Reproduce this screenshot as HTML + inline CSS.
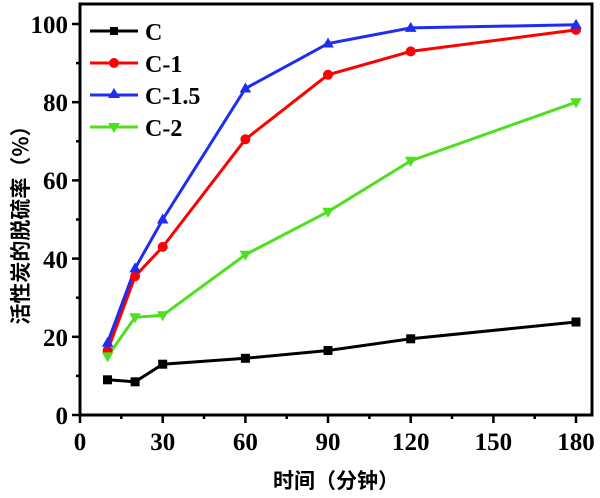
<!DOCTYPE html>
<html><head><meta charset="utf-8"><style>body{margin:0;background:#fff}svg{display:block}</style></head><body>
<svg width="600" height="498" viewBox="0 0 600 498" xmlns="http://www.w3.org/2000/svg" font-family="'Liberation Serif',serif" font-weight="bold">
<rect x="80" y="4" width="512" height="411" fill="none" stroke="#000" stroke-width="3"/>
<g stroke="#000" stroke-width="2.5">
<line x1="80" y1="415" x2="80" y2="423"/><line x1="162.7" y1="415" x2="162.7" y2="423"/><line x1="245.4" y1="415" x2="245.4" y2="423"/><line x1="328" y1="415" x2="328" y2="423"/><line x1="410.7" y1="415" x2="410.7" y2="423"/><line x1="493.4" y1="415" x2="493.4" y2="423"/><line x1="576" y1="415" x2="576" y2="423"/>
<line x1="121.3" y1="415" x2="121.3" y2="419"/><line x1="204" y1="415" x2="204" y2="419"/><line x1="286.7" y1="415" x2="286.7" y2="419"/><line x1="369.4" y1="415" x2="369.4" y2="419"/><line x1="452" y1="415" x2="452" y2="419"/><line x1="534.7" y1="415" x2="534.7" y2="419"/>
<line x1="72" y1="415" x2="80" y2="415"/><line x1="72" y1="336.8" x2="80" y2="336.8"/><line x1="72" y1="258.6" x2="80" y2="258.6"/><line x1="72" y1="180.4" x2="80" y2="180.4"/><line x1="72" y1="102.2" x2="80" y2="102.2"/><line x1="72" y1="24" x2="80" y2="24"/>
<line x1="76" y1="375.9" x2="80" y2="375.9"/><line x1="76" y1="297.7" x2="80" y2="297.7"/><line x1="76" y1="219.5" x2="80" y2="219.5"/><line x1="76" y1="141.3" x2="80" y2="141.3"/><line x1="76" y1="63.1" x2="80" y2="63.1"/>
</g>
<g font-size="25" text-anchor="middle">
<text x="80" y="450">0</text><text x="162.7" y="450">30</text><text x="245.4" y="450">60</text><text x="328" y="450">90</text><text x="410.7" y="450">120</text><text x="493.4" y="450">150</text><text x="576" y="450">180</text>
</g>
<g font-size="25" text-anchor="end">
<text x="68" y="424">0</text><text x="68" y="346">20</text><text x="68" y="268">40</text><text x="68" y="189">60</text><text x="68" y="111">80</text><text x="68" y="33">100</text>
</g>
<text x="336" y="488" font-size="21" text-anchor="middle" font-family="'Noto Sans CJK SC',sans-serif" font-weight="bold">时间（分钟）</text>
<text transform="translate(28,220) rotate(-90)" font-size="21" text-anchor="middle" font-family="'Noto Sans CJK SC',sans-serif" font-weight="bold">活性炭的脱硫率（%）</text>
<g fill="none" stroke-width="3">
<polyline stroke="#000" points="107.6,379.8 135.1,381.8 162.7,364.2 245.4,358.3 328,350.5 410.7,338.8 576,322"/>
<polyline stroke="#f00" points="107.6,350.5 135.1,276.2 162.7,246.9 245.4,139.3 328,74.8 410.7,51.4 576,29.9"/>
<polyline stroke="#1e2ef0" points="107.6,342.7 135.1,268.4 162.7,219.5 245.4,88.5 328,43.5 410.7,27.9 576,24.8"/>
<polyline stroke="#4ee01e" points="107.6,356.4 135.1,317.3 162.7,315.3 245.4,254.7 328,211.7 410.7,160.8 576,102.2"/>
</g>
<g fill="#000"><rect x="103" y="375.3" width="9" height="9"/><rect x="130.6" y="377.3" width="9" height="9"/><rect x="158.2" y="359.7" width="9" height="9"/><rect x="240.9" y="353.8" width="9" height="9"/><rect x="323.5" y="346" width="9" height="9"/><rect x="406.2" y="334.3" width="9" height="9"/><rect x="571.5" y="317.5" width="9" height="9"/></g>
<g fill="#f00"><circle cx="107.6" cy="350.5" r="5"/><circle cx="135.1" cy="276.2" r="5"/><circle cx="162.7" cy="246.9" r="5"/><circle cx="245.4" cy="139.3" r="5"/><circle cx="328" cy="74.8" r="5"/><circle cx="410.7" cy="51.4" r="5"/><circle cx="576" cy="29.9" r="5"/></g>
<g fill="#1e2ef0">
<polygon points="107.6,336.7 113.4,346.7 101.8,346.7"/><polygon points="135.1,262.4 140.9,272.4 129.3,272.4"/><polygon points="162.7,213.5 168.5,223.5 156.9,223.5"/><polygon points="245.4,82.5 251.2,92.5 239.6,92.5"/><polygon points="328,37.5 333.8,47.5 322.2,47.5"/><polygon points="410.7,21.9 416.5,31.9 404.9,31.9"/><polygon points="576,18.8 581.8,28.8 570.2,28.8"/>
</g>
<g fill="#4ee01e">
<polygon points="107.6,362.4 113.4,352.4 101.8,352.4"/><polygon points="135.1,323.3 140.9,313.3 129.3,313.3"/><polygon points="162.7,321.3 168.5,311.3 156.9,311.3"/><polygon points="245.4,260.7 251.2,250.7 239.6,250.7"/><polygon points="328,217.7 333.8,207.7 322.2,207.7"/><polygon points="410.7,166.8 416.5,156.8 404.9,156.8"/><polygon points="576,108.2 581.8,98.2 570.2,98.2"/>
</g>
<g stroke-width="3">
<line x1="90" y1="31" x2="138" y2="31" stroke="#000"/><rect x="110" y="27" width="8" height="8" fill="#000"/>
<line x1="90" y1="63" x2="138" y2="63" stroke="#f00"/><circle cx="114" cy="63" r="5" fill="#f00"/>
<line x1="90" y1="95" x2="138" y2="95" stroke="#1e2ef0"/><polygon points="114,88 120,98 108,98" fill="#1e2ef0"/>
<line x1="90" y1="127" x2="138" y2="127" stroke="#4ee01e"/><polygon points="114,133 120,123 108,123" fill="#4ee01e"/>
</g>
<g font-size="24"><text x="145" y="40">C</text><text x="145" y="72">C-1</text><text x="145" y="104">C-1.5</text><text x="145" y="136">C-2</text></g>
</svg>
</body></html>
